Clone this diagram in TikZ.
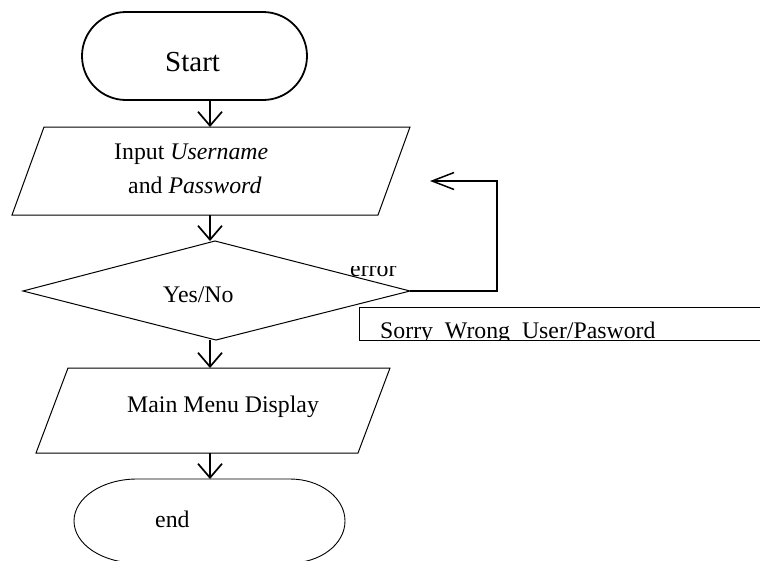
\documentclass[tikz,border=0pt]{standalone}
\usepackage{fontspec}
\setmainfont{Liberation Serif}
\usetikzlibrary{arrows.meta}
\begin{document}
\begin{tikzpicture}[x=1pt,y=-1pt,
  box/.style={inner sep=0pt, outer sep=0pt},
  shapeline/.style={line width=1pt},
  flowarrow/.style={line width=1.7pt, -{Straight Barb[length=14pt,width=24pt]}},
  lbl/.style={inner sep=0pt, anchor=base west, font=\fontsize{23.8}{34}\selectfont},
]
\useasboundingbox (0,0) rectangle (760,560);
\clip (0,0) rectangle (760,560);

% Start terminal
\node[draw, line width=1.8pt, rounded corners=44pt, minimum width=225pt, minimum height=88pt, box] (start) at (194.5,56) {};
\node[lbl, font=\fontsize{29}{34}\selectfont] (starttxt) at (165,71) {Start};

% Input parallelogram
\node[box, minimum width=398pt, minimum height=88pt] (input) at (211,171) {};
\draw[shapeline] ([xshift=32pt]input.north west) -- (input.north east) -- ([xshift=-32pt]input.south east) -- (input.south west) -- cycle;
\node[lbl] (intxt1) at (114,159) {Input \textit{Username}};
\node[lbl] (intxt2) at (128,193) {and \textit{Password}};

% Decision
\node[box, minimum width=387pt, minimum height=99pt] (dec) at (216.5,290.5) {};
\coordinate (dtop) at (215,241);
\coordinate (dbot) at (216,340);
\coordinate (dleft) at (23,291);
\coordinate (dright) at (410,291);
\draw[shapeline] (dtop) -- (dright) -- (dbot) -- (dleft) -- cycle;
\node[lbl] (dectxt) at (163,302) {Yes/No};

% Main menu parallelogram
\node[box, minimum width=354pt, minimum height=85pt] (menu) at (213,410.5) {};
\draw[shapeline] ([xshift=32pt]menu.north west) -- (menu.north east) -- ([xshift=-32pt]menu.south east) -- (menu.south west) -- cycle;
\node[lbl] (menutxt) at (127,412) {Main Menu Display};

% End terminal
\node[box, minimum width=271pt, minimum height=84pt] (endn) at (209.5,521) {};
\draw[line width=0.9pt] (137,479) -- (290,479) arc[start angle=270, end angle=450, x radius=55, y radius=42]
  -- (137,563) arc[start angle=90, end angle=270, x radius=63, y radius=42] -- cycle;
\node[lbl] (endtxt) at (155,527) {end};

% Flow arrows
\coordinate (ax) at (210,0);
\draw[flowarrow] (start.south -| ax) -- (input.north -| ax);
\draw[flowarrow] (input.south -| ax) -- (dtop -| ax);
\draw[flowarrow] (dbot -| ax) -- (menu.north -| ax);
\draw[flowarrow] (menu.south -| ax) -- (endn.north -| ax);

% Error loop
\coordinate (loopend) at (430,181);
\coordinate (loopcorner) at (497,291);
\draw[line width=1.5pt, -{Straight Barb[length=22pt,width=17pt]}] (dright) -- (loopcorner) |- (loopend);
\begin{scope}
  \clip (330,266) rectangle (420,285);
  \node[lbl] (errtxt) at (350,276) {error};
\end{scope}

% Error message box
\node[draw, shapeline, box, minimum width=441pt, minimum height=33pt, anchor=north west] (sorry) at (359,307) {};
\begin{scope}
  \clip (359,307) rectangle (800,340);
  \node[lbl] (sorrytxt) at (380,338) {Sorry\ \ Wrong\ \ User/Pasword};
\end{scope}
\end{tikzpicture}
\end{document}
